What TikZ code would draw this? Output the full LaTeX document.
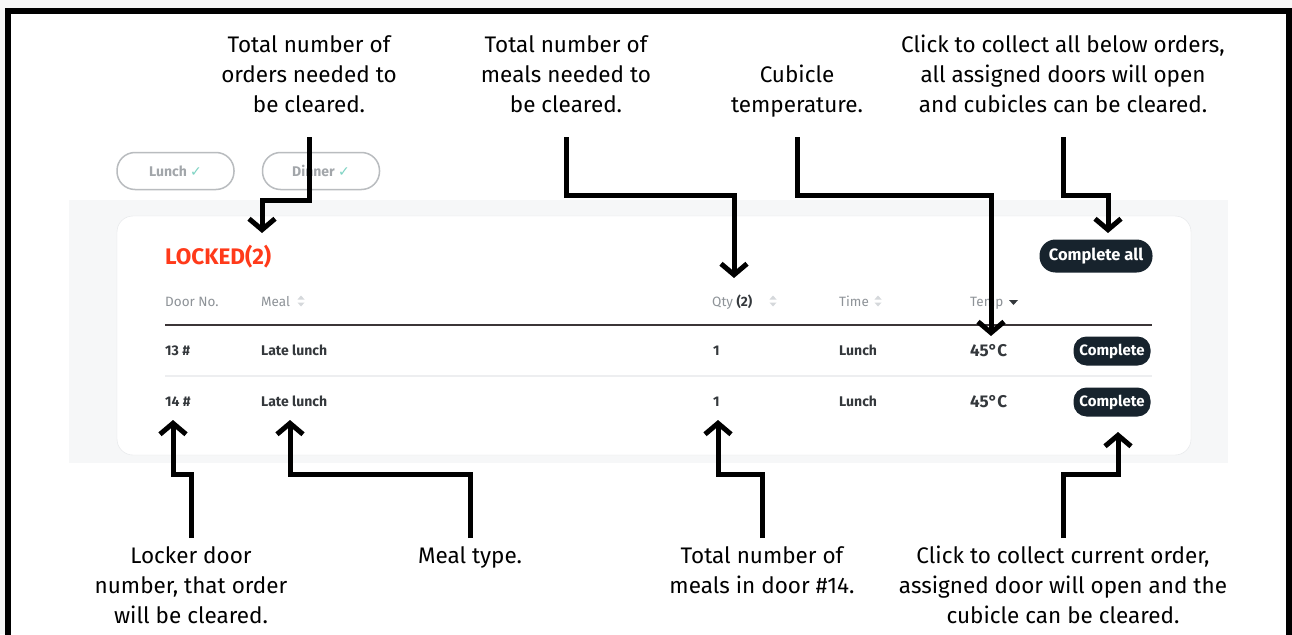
\documentclass[tikz,border=0pt]{standalone}
\usepackage{fontspec}
\setmainfont{Fira Sans}
\newfontfamily\symfont{DejaVu Sans}
\usetikzlibrary{arrows.meta,positioning,calc}
\definecolor{panel}{HTML}{F6F7F8}
\definecolor{cardline}{HTML}{E3E5E8}
\definecolor{pillline}{HTML}{B9BCBF}
\definecolor{pilltext}{HTML}{A2A6AA}
\definecolor{tick}{HTML}{7ED3C3}
\definecolor{alert}{HTML}{FF3A1A}
\definecolor{headtext}{HTML}{8E9398}
\definecolor{celltext}{HTML}{34383C}
\definecolor{btnfill}{HTML}{17232D}
\definecolor{rule}{HTML}{3B3537}
\definecolor{faint}{HTML}{EDEEF0}
\definecolor{sortgrey}{HTML}{D5D8DB}
\tikzset{
  note/.style={font=\fontsize{22.5}{30}\selectfont,align=center,inner sep=0pt,text=black},
  callout/.style={line width=5pt,line join=miter,-{Straight Barb[length=11pt,width=26pt]}},
  pill/.style={draw=pillline,line width=1.5pt,fill=white,rounded corners=18pt,minimum width=117pt,minimum height=37pt,inner sep=0pt,font=\fontsize{14}{16}\selectfont\bfseries,text=pilltext},
  head/.style={font=\fontsize{13.5}{16}\selectfont,text=headtext,anchor=base west,inner sep=0pt},
  cell/.style={font=\fontsize{14}{16}\selectfont\bfseries,text=celltext,anchor=base west,inner sep=0pt},
  temp/.style={cell,font=\fontsize{17}{19}\selectfont\bfseries},
  btn/.style={fill=btnfill,text=white,rounded corners=13pt,inner sep=0pt,font=\fontsize{15}{17}\selectfont\bfseries,minimum height=29pt,minimum width=77pt},
  sorter/.pic={
    \fill[sortgrey] (-3.5,-1.5) -- (3.5,-1.5) -- (0,-5.5) -- cycle;
    \fill[sortgrey] (-3.5,1.5) -- (3.5,1.5) -- (0,5.5) -- cycle;
  },
}
\newcommand{\tickmark}{{\symfont\fontsize{14}{16}\selectfont\color{tick}✓}}

\begin{document}
\begin{tikzpicture}[x=1pt,y=-1pt]
  \useasboundingbox (0,0) rectangle (1292,634);
  % page and frame
  \fill[gray!6] (0,0) rectangle (1292,634);
  \fill[white] (8,11) rectangle (1289,634);
  \draw[line width=6pt,line join=miter] (8,645) -- (8,11) -- (1289,11) -- (1289,645);

  % screenshot
  \fill[panel] (69,200) rectangle (1228,463);
  \draw[cardline,fill=white,rounded corners=16pt] (117,216) rectangle (1191,455);
  \node[pill] (lunchPill) at (175.5,171) {Lunch \tickmark};
  \node[pill] (dinnerPill) at (321,171) {Dinner \tickmark};
  \node[anchor=base west,inner sep=0pt,text=alert,font=\fontsize{22.5}{25}\selectfont\bfseries] (lockTitle) at (165,264) {LOCKED(2)};
  \node[btn,minimum width=113pt,minimum height=33pt,rounded corners=16pt,font=\fontsize{16.5}{18}\selectfont\bfseries] (allBtn) at (1096,256) {Complete all};

  \node[head] (hDoor) at (165,306) {Door No.};
  \node[head] (hMeal) at (261,306) {Meal};
  \node[head] (hQty) at (712,306) {Qty {\color{celltext}\bfseries(2)}};
  \node[head] (hTime) at (839,306) {Time};
  \node[head] (hTemp) at (970,306) {Temp};
  \pic at (301,301) {sorter};
  \pic at (773,301) {sorter};
  \pic at (878,301) {sorter};
  \fill[celltext] (1009,300) -- (1018,300) -- (1013.5,305) -- cycle;
  \draw[rule,line width=1.2pt] (165,325) -- (1152,325);
  \draw[faint,line width=1.2pt] (165,376) -- (1152,376);

  \foreach \r/\y/\d in {1/355/13,2/406/14}{
    \node[cell] (door\r) at (165,\y) {\d\ \#};
    \node[cell] (meal\r) at (261,\y) {Late lunch};
    \node[cell] (qty\r) at (713,\y) {1};
    \node[cell] (time\r) at (839,\y) {Lunch};
    \node[temp] (temp\r) at (970,\y+1) {45°C};
    \node[btn] (btn\r) at (1112,\y-4) {Complete};
  }

  % notes
  \node[note,anchor=north] (ordNote) at (309,35) {Total number of\\orders needed to\\be cleared.};
  \node[note,anchor=north] (sumNote) at (566,35) {Total number of\\meals needed to\\be cleared.};
  \node[note,anchor=north] (tempNote) at (797,65) {Cubicle\\temperature.};
  \node[note,anchor=north] (allNote) at (1063,35) {Click to collect all below orders,\\all assigned doors will open\\and cubicles can be cleared.};
  \node[note,anchor=north] (doorNote) at (191,546) {Locker door\\number, that order\\will be cleared.};
  \node[note,anchor=north] (typeNote) at (470,546) {Meal type.};
  \node[note,anchor=north] (inNote) at (762,546) {Total number of\\meals in door \#14.};
  \node[note,anchor=north] (rowNote) at (1063,546) {Click to collect current order,\\assigned door will open and the\\cubicle can be cleared.};

  % arrow tips
  \coordinate (ordTip) at (262,233);
  \coordinate (sumTip) at (734,278);
  \coordinate (tempTip) at (991,336);
  \coordinate (allTip) at (1108,233);
  \coordinate (doorTip) at (173,420);
  \coordinate (typeTip) at (290,420);
  \coordinate (inTip) at (718,420);
  \coordinate (rowTip) at (1118,432);

  \draw[callout] (ordNote.south |- 0,137) -- (ordNote.south |- 0,200) -| (ordTip);
  \draw[callout] (sumNote.south |- 0,137) -- (sumNote.south |- 0,195) -| (sumTip);
  \draw[callout] (tempNote.south |- 0,137) -- (tempNote.south |- 0,195) -| (tempTip);
  \draw[callout] (allNote.south |- 0,137) -- (allNote.south |- 0,195) -| (allTip);
  \draw[callout] (doorNote.north |- 0,538) -- (doorNote.north |- 0,474) -| (doorTip);
  \draw[callout] (typeNote.north |- 0,538) -- (typeNote.north |- 0,474) -| (typeTip);
  \draw[callout] (inNote.north |- 0,538) -- (inNote.north |- 0,474) -| (inTip);
  \draw[callout] (rowNote.north |- 0,538) -- (rowNote.north |- 0,474) -| (rowTip);
\end{tikzpicture}
\end{document}
